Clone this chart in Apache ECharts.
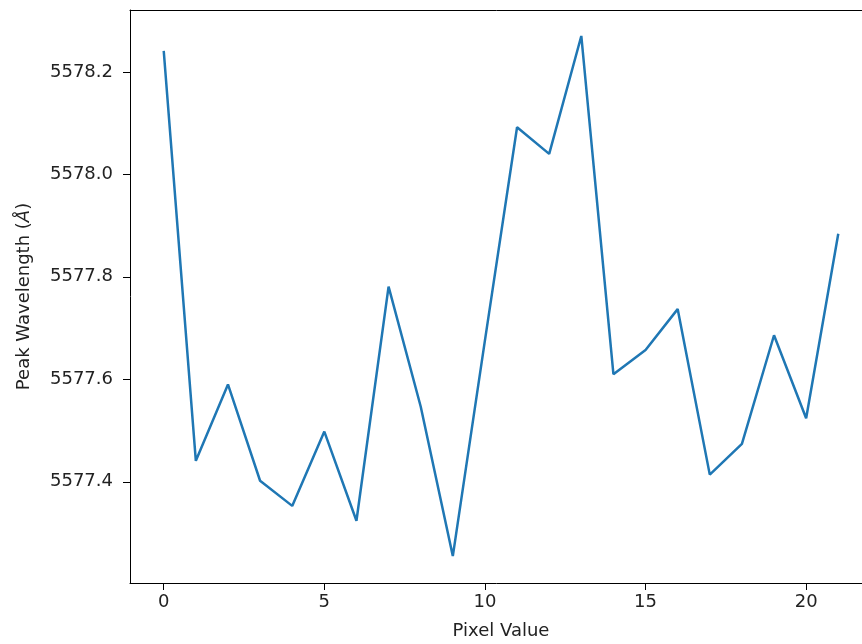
<!DOCTYPE html>
<html>
<head>
<meta charset="utf-8">
<title>Peak Wavelength per Pixel</title>
<script src="https://cdn.jsdelivr.net/npm/echarts@6/dist/echarts.min.js"></script>
<style>
  html, body { margin: 0; padding: 0; background: #fff; }
  #chart { width: 862px; height: 644px; }
</style>
</head>
<body>
<div id="chart"></div>
<script>
// Pixel index along the detector
const pixels = [0, 1, 2, 3, 4, 5, 6, 7, 8, 9, 10, 11, 12, 13, 14, 15, 16, 17, 18, 19, 20, 21];

// Fitted peak wavelength (Angstrom) at each pixel
const peakWavelength = [
  5578.241, 5577.441, 5577.590, 5577.402, 5577.353, 5577.498, 5577.324, 5577.781,
  5577.547, 5577.255, 5577.676, 5578.092, 5578.040, 5578.270, 5577.610, 5577.657,
  5577.737, 5577.414, 5577.474, 5577.686, 5577.524, 5577.884
];

// Tick positions
const xTicks = [0, 5, 10, 15, 20];
const yTicks = [5577.4, 5577.6, 5577.8, 5578.0, 5578.2];

const FONT = '"DejaVu Sans", sans-serif';
const X_MIN = -1.05, X_MAX = 22.05;
const chart = echarts.init(document.getElementById('chart'), null, { renderer: 'canvas' });

chart.setOption({
  animation: false,
  backgroundColor: '#ffffff',
  grid: {
    left: 130,
    top: 10,
    width: 742,
    height: 573,
    outerBoundsMode: 'none',
    containLabel: false,
    show: false
  },
  xAxis: [{
    type: 'value',
    min: X_MIN,
    max: X_MAX,
    name: 'Pixel Value',
    nameLocation: 'middle',
    nameGap: 39,
    nameTextStyle: { fontFamily: FONT, fontSize: 18, color: '#222' },
    axisLine: { show: true, onZero: false, lineStyle: { color: '#000', width: 1 } },
    axisTick: { show: true, inside: false, length: 7, customValues: xTicks, lineStyle: { color: '#000', width: 1 } },
    axisLabel: {
      show: true, margin: 10, customValues: xTicks,
      fontFamily: FONT, fontSize: 18, color: '#222',
      formatter: v => String(v)
    },
    splitLine: { show: false }
  }, {
    // top spine of the frame
    type: 'value',
    position: 'top',
    min: X_MIN,
    max: X_MAX,
    axisLine: { show: true, onZero: false, lineStyle: { color: '#000', width: 1 } },
    axisTick: { show: false },
    axisLabel: { show: false },
    splitLine: { show: false }
  }],
  yAxis: {
    type: 'value',
    min: 5577.2025,
    max: 5578.3207,
    name: 'Peak Wavelength ({i|Å})',
    nameLocation: 'middle',
    nameGap: 97,
    nameRotate: 90,
    nameTextStyle: {
      fontFamily: FONT, fontSize: 18, color: '#222',
      rich: { i: { fontFamily: FONT, fontSize: 18, fontStyle: 'italic', color: '#222' } }
    },
    axisLine: { show: true, onZero: false, lineStyle: { color: '#000', width: 1 } },
    axisTick: { show: true, inside: false, length: 7, customValues: yTicks, lineStyle: { color: '#000', width: 1 } },
    axisLabel: {
      show: true, margin: 17, customValues: yTicks,
      fontFamily: FONT, fontSize: 18, color: '#222',
      formatter: v => v.toFixed(1)
    },
    splitLine: { show: false }
  },
  series: [{
    type: 'line',
    xAxisIndex: 0,
    data: pixels.map((p, i) => [p, peakWavelength[i]]),
    showSymbol: false,
    symbol: 'none',
    lineStyle: { color: '#1f77b4', width: 2.5 },
    itemStyle: { color: '#1f77b4' }
  }]
});
</script>
</body>
</html>
